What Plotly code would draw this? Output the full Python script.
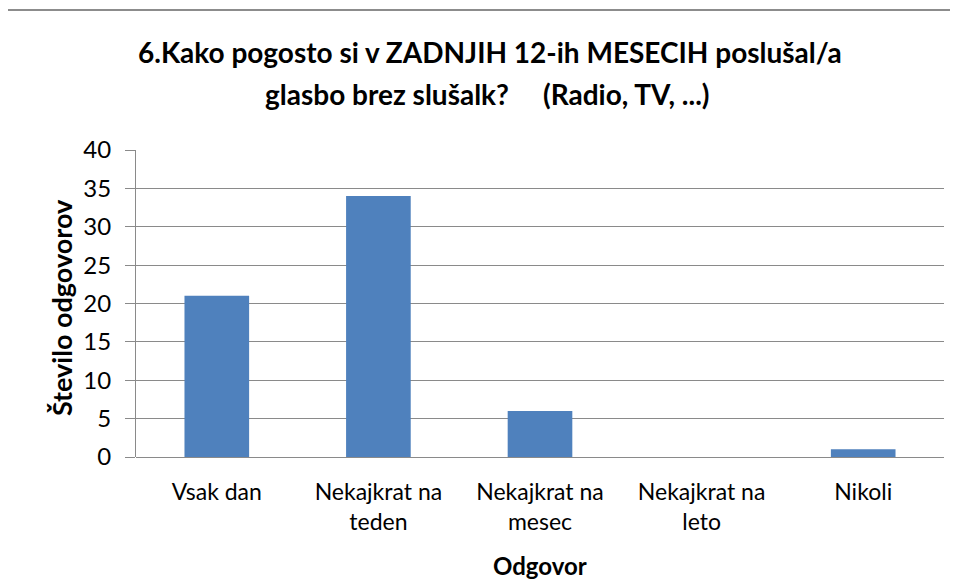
import plotly.graph_objects as go

categories = ["Vsak dan", "Nekajkrat na<br>teden", "Nekajkrat na<br>mesec", "Nekajkrat na<br>leto", "Nikoli"]
values = [21, 34, 6, 0, 1]
title_line1 = "6.Kako pogosto si v ZADNJIH 12-ih MESECIH poslušal/a"
title_line2 = "glasbo brez slušalk?\u00a0\u00a0\u00a0\u00a0\u00a0(Radio, TV, ...)"
x_title = "Odgovor"
y_title = "Število odgovorov"
y_ticks = [0, 5, 10, 15, 20, 25, 30, 35, 40]

FONT = "Lato"
GRID = "#8a8a8a"

# page body has an 8px default margin, so the figure is 8px smaller than the window
fig = go.Figure(go.Bar(x=categories, y=values, marker=dict(color="#4F81BD", line=dict(width=0)), width=0.4))

fig.update_layout(
    width=950, height=575,
    margin=dict(l=128, r=14, t=142, b=126),
    paper_bgcolor="white", plot_bgcolor="white",
    showlegend=False,
    font=dict(family=FONT, color="#000000", size=23),
    bargap=0.6,
)
fig.update_xaxes(
    showgrid=False, showline=False, ticks="", zeroline=False, automargin=False,
    tickfont=dict(family=FONT, size=23), ticklabelstandoff=19,
)
fig.update_yaxes(
    range=[0, 40], tickvals=y_ticks, showgrid=True, gridcolor=GRID, gridwidth=1,
    showline=True, linecolor=GRID, linewidth=1, automargin=False,
    ticks="outside", ticklen=10, tickcolor=GRID, ticklabelstandoff=9,
    zeroline=True, zerolinecolor=GRID, zerolinewidth=1,
    tickfont=dict(family=FONT, size=24),
)
# chart title (two lines, with the wider line spacing of the original)
fig.add_annotation(text="<b>" + title_line1 + "</b>", xref="paper", yref="paper", x=0.4387, y=1.3176,
                   showarrow=False, xanchor="center", yanchor="middle", font=dict(family=FONT, size=28))
fig.add_annotation(text="<b>" + title_line2 + "</b>", xref="paper", yref="paper", x=0.435, y=1.184,
                   showarrow=False, xanchor="center", yanchor="middle", font=dict(family=FONT, size=28))
fig.add_annotation(text="<b>" + x_title + "</b>", xref="paper", yref="paper", x=0.5, y=-0.352,
                   showarrow=False, xanchor="center", yanchor="middle", font=dict(family=FONT, size=24))
fig.add_annotation(text="<b>" + y_title + "</b>", xref="paper", yref="paper", x=-0.0928, y=0.485,
                   showarrow=False, xanchor="center", yanchor="middle", textangle=-90,
                   font=dict(family=FONT, size=27))
# outer chart frame
fig.add_shape(type="rect", xref="paper", yref="paper",
              x0=-0.162, x1=1.2, y0=-0.6, y1=1.456,
              line=dict(color="#8c8c8c", width=2), fillcolor="rgba(0,0,0,0)", layer="below")

fig.write_html("out.html")
